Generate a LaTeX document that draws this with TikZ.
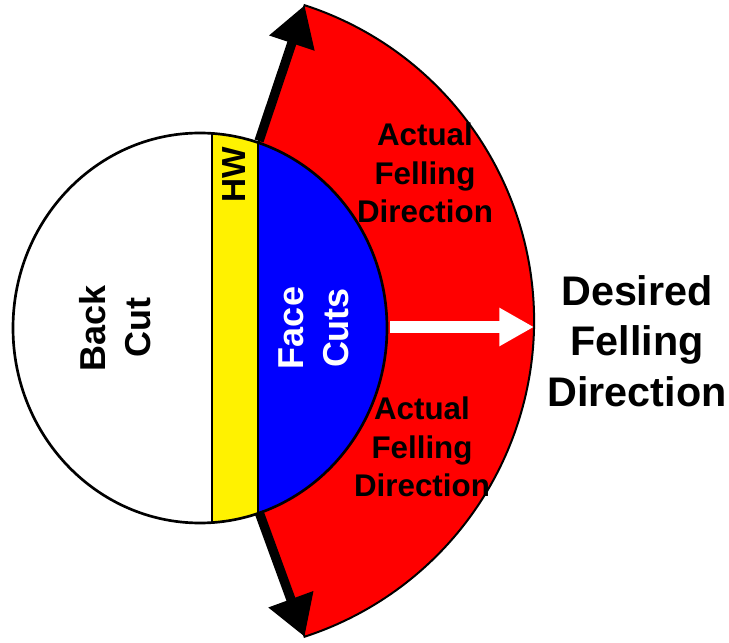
\documentclass[tikz,border=0pt]{standalone}
\usepackage{fontspec}
\setmainfont{Liberation Sans}
\usetikzlibrary{arrows.meta}

\begin{document}
\begin{tikzpicture}[x=0.75pt, y=0.75pt,
    cutlabel/.style={align=center, inner sep=0pt, rotate=90, font=\bfseries\fontsize{27}{34}\selectfont},
    actuallabel/.style={align=center, inner sep=0pt, font=\bfseries\fontsize{23.5}{29}\selectfont},
    desiredlabel/.style={align=center, inner sep=0pt, font=\bfseries\fontsize{31}{38}\selectfont},
    swingarrow/.style={line width=7pt, -{Triangle[length=30pt, width=34pt]}}]
    \useasboundingbox (0,0) rectangle (729,643);

    % end points
    \coordinate (topStart) at (259,502);
    \coordinate (topTip) at (304.6,637.8);
    \coordinate (botStart) at (259,131);
    \coordinate (botTip) at (304.6,6.2);
    \coordinate (aimStart) at (390,316);
    \coordinate (aimEnd) at (534,316);

    % felling sector
    \filldraw[fill=red, line width=1.5pt] (topStart) -- (topTip)
        arc[start angle=72, end angle=-72, radius=249pt] -- (botStart) -- cycle;

    % stump
    \begin{scope}
        \clip (200,315) ellipse [x radius=140.25pt, y radius=146.25pt];
        \fill[white] (0,0) rectangle (212,643);
        \fill[yellow] (212,0) rectangle (258,643);
        \fill[blue] (258,0) rectangle (729,643);
        \draw[line width=1.5pt] (212,0) -- (212,643) (258,0) -- (258,643);
    \end{scope}
    \draw[line width=2pt] (200,315) ellipse [x radius=140.25pt, y radius=146.25pt];

    % arrows
    \draw[swingarrow] (topStart) -- (topTip);
    \draw[swingarrow] (botStart) -- (botTip);
    \draw[white, line width=9pt, -{Triangle[length=26pt, width=27pt]}] (aimStart) -- (aimEnd);

    % labels
    \node[cutlabel] (back) at (115,315) {Back\\Cut};
    \node[cutlabel, white] (face) at (314,315) {Face\\Cuts};
    \node[rotate=90, inner sep=0pt, font=\bfseries\fontsize{25}{30}\selectfont] (hw) at (234,468) {HW};
    \node[actuallabel] (actualTop) at (425,470) {Actual\\Felling\\Direction};
    \node[actuallabel] (actualBot) at (422,196) {Actual\\Felling\\Direction};
    \node[desiredlabel] (desired) at (637,302) {Desired\\Felling\\Direction};
\end{tikzpicture}
\end{document}
